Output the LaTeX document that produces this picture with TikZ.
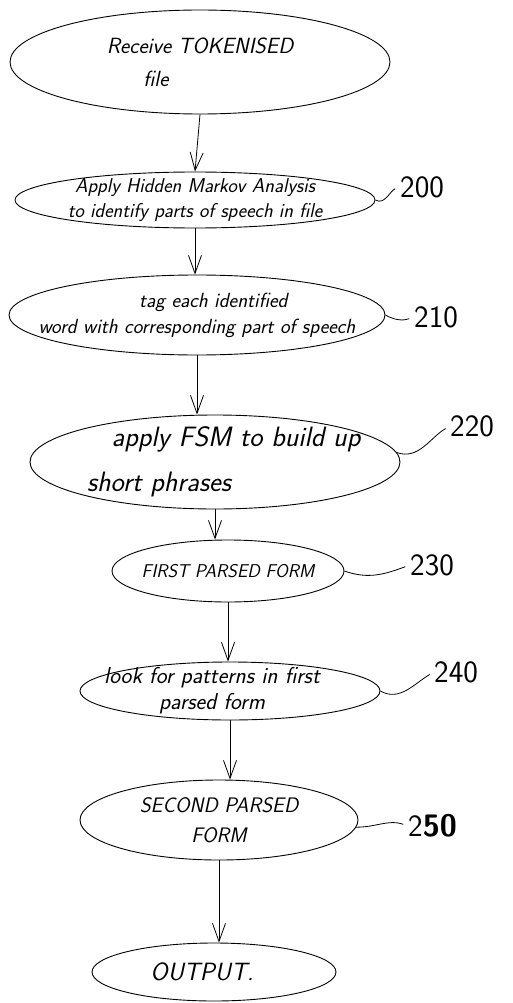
\documentclass[tikz,border=0pt]{standalone}
\usepackage{fontspec}
\usetikzlibrary{shapes.geometric,arrows.meta}
\begin{document}
\begin{tikzpicture}[x=1pt,y=-1pt,
  flowstep/.style={draw, ellipse, line width=0.9pt, inner sep=0pt},
  steptext/.style={inner sep=0pt, align=center},
  fs/.style 2 args={font=\sffamily\itshape\fontsize{#1}{#2}\selectfont},
  tagnum/.style={anchor=west, inner sep=0pt,
    font=\sffamily\fontsize{31}{31}\selectfont\addfontfeature{LetterSpace=18}},
  flow/.style={line width=0.8pt, -{Straight Barb[length=18pt,width=13pt,line width=0.8pt]}},
  lead/.style={line width=0.8pt, shorten >=5pt}]
\useasboundingbox (0,0) rectangle (512,1003);

% process steps: outline first, wording on top
\node[flowstep, minimum width=380pt, minimum height=104pt] (e1) at (200,62) {};
\node[steptext, fs={22}{33}] (t1) at (e1)
  {Receive TOKENISED\\\hspace*{-4em}file};
\node[flowstep, minimum width=360pt, minimum height=56pt] (e2) at (195,200) {};
\node[steptext, fs={20}{25}] (t2) at (e2)
  {Apply Hidden Markov Analysis\\to identify parts of speech in file};
\node[flowstep, minimum width=376pt, minimum height=80pt] (e3) at (197,315) {};
\node[steptext, fs={20.5}{26}] (t3) at (e3)
  {\hspace*{1.6em}tag each identified\\word with corresponding part of speech};
\node[flowstep, minimum width=370pt, minimum height=94pt] (e4) at (215,462) {};
\node[steptext, fs={28}{45}] (t4) at (e4)
  {\hspace*{1.5em}apply FSM to build up\\\hspace*{-4em}short phrases};
\node[flowstep, minimum width=232pt, minimum height=62pt] (e5) at (228,571) {};
\node[steptext, fs={18.5}{22}] (t5) at (e5)
  {FIRST PARSED FORM};
\node[flowstep, minimum width=300pt, minimum height=58pt] (e6) at (230,691) {};
\node[steptext, fs={23}{26}] (t6) at ([xshift=-18pt]e6.center)
  {look for patterns in first\\parsed form};
\node[flowstep, minimum width=278pt, minimum height=80pt] (e7) at (219,820) {};
\node[steptext, fs={21}{30}] (t7) at (e7)
  {SECOND PARSED\\FORM};
\node[flowstep, minimum width=244pt, minimum height=58pt] (e8) at (214,972) {};
\node[steptext, fs={25}{28}] (t8) at ([xshift=-12pt]e8.center)
  {OUTPUT.};

% reference numerals
\node[tagnum] (l200) at (400,187) {200};
\node[tagnum] (l210) at (414,317) {210};
\node[tagnum] (l220) at (450,426) {220};
\node[tagnum] (l230) at (410,565) {230};
\node[tagnum] (l240) at (434,672) {240};
\node[tagnum] (l250) at (408,826) {2\textbf{50}};

% flow arrows
\draw[flow] (e1.south) -- (e2.north);
\draw[flow] (e2.south) -- (e2.south |- e3.north);
\draw[flow] (e3.south) -- (e3.south |- e4.north);
\draw[flow] (e4.south) -- (e4.south |- e5.north);
\draw[flow] (e5.south) -- (e5.south |- e6.north);
\draw[flow] (e6.south) -- (e6.south |- e7.north);
\draw[flow] (e7.south) -- (e7.south |- e8.north);

% leader lines to the numerals
\draw[lead] (e2.east) to[out=-30, in=200] (l200.west);
\draw[lead] (e3.east) to[out=-30, in=200] (l210.west);
\draw[lead] (e4.3) to[out=-20, in=210] (l220.west);
\draw[lead] (e5.east) to[out=-20, in=200] (l230.west);
\draw[lead] (e6.east) to[out=-30, in=210] (l240.west);
\draw[lead] (e7.-3) to[out=0, in=160] (l250.west);
\end{tikzpicture}
\end{document}
